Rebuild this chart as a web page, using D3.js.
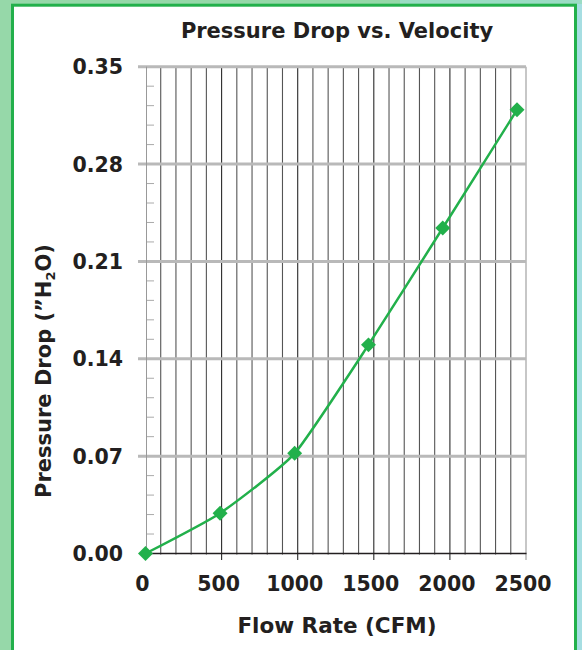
<!DOCTYPE html>
<html>
<head>
<meta charset="utf-8">
<script src="https://cdn.jsdelivr.net/npm/d3@7"></script>
<style>
  html, body { margin: 0; padding: 0; background: #96d8a9; }
  svg { display: block; }
  text { font-family: "DejaVu Sans", sans-serif; font-weight: bold; fill: #231f20; }
</style>
</head>
<body>
<div id="chart"></div>
<script>
// values
var flowRate = [0, 490, 980, 1465, 1953, 2441];
var pressureDrop = [0.000, 0.029, 0.072, 0.150, 0.234, 0.319];
var xTicks = [0, 500, 1000, 1500, 2000, 2500];
var yTicks = [0.00, 0.07, 0.14, 0.21, 0.28, 0.35];

var width = 582, height = 650;
var green = '#22b04b';

var svg = d3.select('#chart').append('svg')
    .attr('width', width)
    .attr('height', height);

// frame
svg.append('rect').attr('x', 0).attr('y', 0).attr('width', width).attr('height', height).style('fill', '#96d8a9');
svg.append('rect').attr('x', 576).attr('y', 0).attr('width', 6).attr('height', height).style('fill', '#a6dee2');
svg.append('rect').attr('x', 400).attr('y', 0).attr('width', 182).attr('height', 4).style('fill', '#9bdcc4');
svg.append('rect')
    .attr('x', 12.5).attr('y', 5.2)
    .attr('width', 563).attr('height', 700)
    .style('fill', 'white')
    .style('stroke', green)
    .style('stroke-width', 3);

var x = d3.scaleLinear().domain([0, 2500]).range([145.5, 526]);
var y = d3.scaleLinear().domain([0, 0.35]).range([553.5, 66.7]);

// vertical grid every 100 CFM
var vgrid = d3.range(100, 2501, 100);
svg.append('g').selectAll('line')
    .data(vgrid)
    .enter().append('line')
    .attr('x1', d => x(d)).attr('x2', d => x(d))
    .attr('y1', y(0.35))
    .attr('y2', d => d % 500 === 0 ? 560 : y(0) + 1)
    .style('stroke', d => d === 2500 ? '#999' : (d % 500 === 0 ? '#2a2a2a' : '#555'))
    .style('stroke-width', 1.1);

// minor y ticks
var minor = d3.range(1, 25).map(i => i * 0.014).filter(v => Math.round(v * 1000) % 70 !== 0);
svg.append('g').selectAll('line')
    .data(minor)
    .enter().append('line')
    .attr('x1', 146.5).attr('x2', 154)
    .attr('y1', d => y(d)).attr('y2', d => y(d))
    .style('stroke', '#aaa')
    .style('stroke-width', 1);

// horizontal major grid
svg.append('g').selectAll('line')
    .data(yTicks.slice(1))
    .enter().append('line')
    .attr('x1', 138).attr('x2', 526)
    .attr('y1', d => y(d)).attr('y2', d => y(d))
    .style('stroke', '#b9b9b9')
    .style('stroke-width', 3);

// y axis line
svg.append('line')
    .attr('x1', 146.5).attr('x2', 146.5)
    .attr('y1', y(0.35)).attr('y2', y(0))
    .style('stroke', '#999')
    .style('stroke-width', 1);

// x axis line
svg.append('line')
    .attr('x1', 146).attr('x2', 526.5)
    .attr('y1', y(0)).attr('y2', y(0))
    .style('stroke', '#231f20')
    .style('stroke-width', 1.5);

// tick labels
svg.append('g').selectAll('text')
    .data(yTicks)
    .enter().append('text')
    .attr('x', 123)
    .attr('y', d => y(d) + 7.5)
    .attr('text-anchor', 'end')
    .style('font-size', '20.5px')
    .text(d => d.toFixed(2));

svg.append('g').selectAll('text')
    .data(xTicks)
    .enter().append('text')
    .attr('x', d => x(d) - 3)
    .attr('y', 591)
    .attr('text-anchor', 'middle')
    .style('font-size', '20.5px')
    .text(d => d);

// titles
svg.append('text')
    .attr('x', 337).attr('y', 38)
    .attr('text-anchor', 'middle')
    .style('font-size', '21px')
    .text('Pressure Drop vs. Velocity');

svg.append('text')
    .attr('x', 337).attr('y', 633)
    .attr('text-anchor', 'middle')
    .style('font-size', '21.5px')
    .text('Flow Rate (CFM)');

var ylab = svg.append('text')
    .attr('transform', 'translate(51,371) rotate(-90)')
    .attr('text-anchor', 'middle')
    .style('font-size', '21px');
ylab.append('tspan').text('Pressure Drop (\u201DH');
ylab.append('tspan').attr('dy', 4).style('font-size', '13px').text('2');
ylab.append('tspan').attr('dy', -4).text('O)');

// data line
var line = d3.line()
    .x((d, i) => x(flowRate[i]))
    .y(d => y(d))
    .curve(d3.curveCardinal.tension(0.5));

svg.append('path')
    .datum(pressureDrop)
    .attr('d', line)
    .style('fill', 'none')
    .style('stroke', green)
    .style('stroke-width', 2.5);

svg.append('g').selectAll('path')
    .data(pressureDrop)
    .enter().append('path')
    .attr('d', d3.symbol().type(d3.symbolSquare).size(112))
    .attr('transform', (d, i) => 'translate(' + x(flowRate[i]) + ',' + y(d) + ') rotate(45)')
    .style('fill', green);
</script>
</body>
</html>
